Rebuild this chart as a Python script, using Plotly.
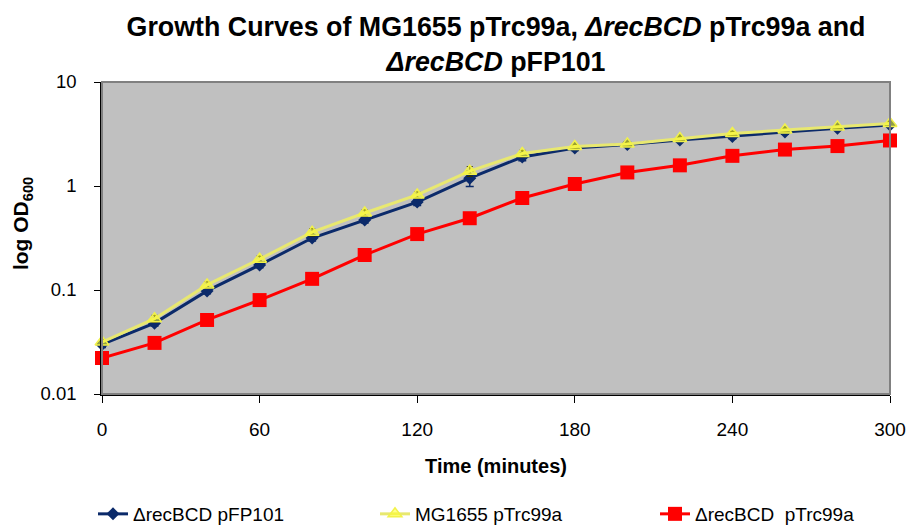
import plotly.graph_objects as go

time_min = [0, 20, 40, 60, 80, 100, 120, 140, 160, 180, 200, 220, 240, 260, 280, 300]

recbcd_pfp101 = [0.030, 0.048, 0.098, 0.174, 0.316, 0.47, 0.70, 1.19, 1.90, 2.32, 2.50, 2.77, 3.0, 3.3, 3.6, 3.86]
recbcd_pfp101_err = [0.002, 0.003, 0.006, 0.010, 0.02, 0.03, 0.05, 0.20, 0.15, 0.12, 0.12, 0.12, 0.15, 0.15, 0.15, 0.15]

mg1655_ptrc99a = [0.0316, 0.053, 0.112, 0.198, 0.36, 0.55, 0.82, 1.39, 2.05, 2.40, 2.53, 2.86, 3.2, 3.45, 3.7, 4.0]
mg1655_ptrc99a_err = [0.002, 0.004, 0.008, 0.014, 0.03, 0.04, 0.06, 0.15, 0.15, 0.12, 0.12, 0.15, 0.15, 0.15, 0.15, 0.15]

recbcd_ptrc99a = [0.0222, 0.031, 0.0515, 0.080, 0.128, 0.217, 0.345, 0.49, 0.767, 1.045, 1.35, 1.58, 1.95, 2.24, 2.42, 2.74]

x_ticks = [0, 60, 120, 180, 240, 300]
y_ticks = [0.01, 0.1, 1, 10]
y_tick_labels = ["0.01", "0.1", "1", "10"]

series_names = ["\u0394recBCD pFP101", "MG1655 pTrc99a", "\u0394recBCD  pTrc99a"]

FONT = "Liberation Sans, Arial, sans-serif"

fig = go.Figure()

fig.add_trace(go.Scatter(
    x=time_min, y=recbcd_pfp101, name=series_names[0], mode="lines+markers",
    line=dict(color="#0B2A6A", width=3),
    marker=dict(symbol="diamond", size=10, color="#0B2A6A"),
    error_y=dict(type="data", array=recbcd_pfp101_err, color="#0B2A6A", thickness=1.5, width=4),
    cliponaxis=False, legend="legend",
))
fig.add_trace(go.Scatter(
    x=time_min, y=mg1655_ptrc99a, name=series_names[1], mode="lines+markers",
    line=dict(color="#E8E870", width=3),
    marker=dict(symbol="triangle-up", size=12, color="rgba(255,255,40,0.55)",
                line=dict(color="#F2F24A", width=1.5)),
    error_y=dict(type="data", array=mg1655_ptrc99a_err, color="#333300", thickness=1.2, width=3),
    cliponaxis=False, legend="legend2",
))
fig.add_trace(go.Scatter(
    x=time_min, y=recbcd_ptrc99a, name=series_names[2], mode="lines+markers",
    line=dict(color="#FF0000", width=3),
    marker=dict(symbol="square", size=14, color="#FF0000"),
    cliponaxis=False, legend="legend3",
))

legend_common = dict(
    orientation="h", xref="container", yref="container",
    y=13 / 527, xanchor="left", yanchor="middle",
    font=dict(size=19, family=FONT, color="black"), bgcolor="rgba(0,0,0,0)",
)

fig.update_layout(
    template="none",
    width=910, height=527,
    margin=dict(l=102, r=20, t=82, b=133, pad=0),
    paper_bgcolor="white",
    plot_bgcolor="#C0C0C0",
    font=dict(family=FONT, color="black", size=19),
    title=dict(
        text="<b>Growth Curves of MG1655 pTrc99a, <i>\u0394recBCD</i> pTrc99a and<br><i>\u0394recBCD</i> pFP101</b>",
        x=0.5, xref="paper", xanchor="center",
        yref="container", y=1 - 36 / 527, yanchor="middle",
        font=dict(size=26.8, family=FONT, color="black"),
    ),
    showlegend=True,
    legend=dict(x=93 / 910, **legend_common),
    legend2=dict(x=375 / 910, **legend_common),
    legend3=dict(x=655 / 910, **legend_common),
    shapes=[dict(type="rect", xref="paper", yref="paper", x0=0, y0=0, x1=1, y1=1,
                 line=dict(color="#808080", width=2), layer="above")],
)

fig.update_xaxes(
    range=[0, 300], tickvals=x_ticks, ticks="outside", ticklen=7, tickcolor="black",
    tickfont=dict(size=19), automargin=False, ticklabelstandoff=10,
    showgrid=False, zeroline=False, showline=True, linecolor="black", linewidth=1.5,
    title=dict(text="<b>Time (minutes)</b>", font=dict(size=20), standoff=20),
)
fig.update_yaxes(
    type="log", range=[-2, 1], tickvals=y_ticks, ticktext=y_tick_labels,
    ticks="outside", ticklen=6, tickcolor="black",
    tickfont=dict(size=18.5), automargin=False, ticklabelstandoff=14,
    showgrid=False, zeroline=False, showline=True, linecolor="black", linewidth=1.5,
    title=dict(text="<b>\u00a0\u00a0\u00a0\u00a0\u00a0log OD<sub>600</sub></b>", font=dict(size=21), standoff=6),
)

fig.write_html("out.html", config={"displayModeBar": False},
               post_script="document.body.style.margin='0px';")
